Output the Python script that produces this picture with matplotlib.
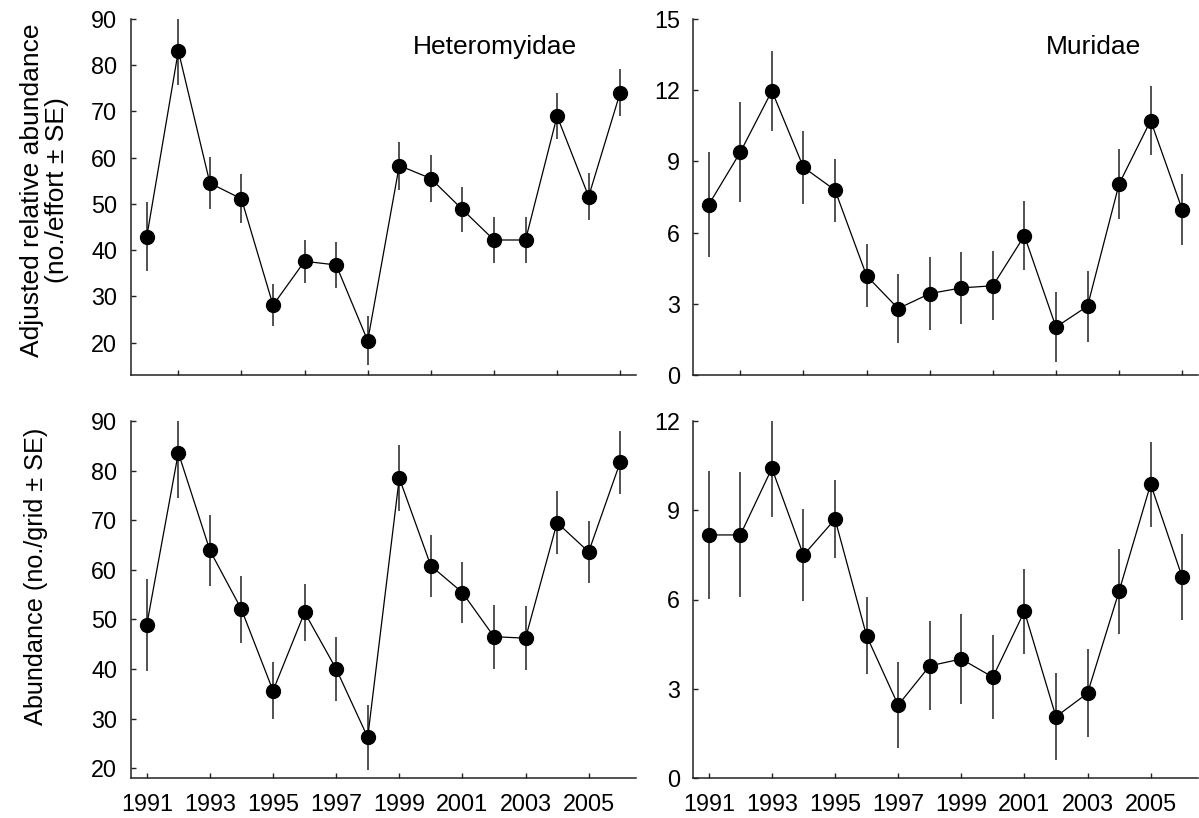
import matplotlib
matplotlib.use("Agg")
import matplotlib.pyplot as plt
import numpy as np

plt.rcParams["font.family"] = ["Liberation Sans", "DejaVu Sans"]

years = np.arange(1991, 2007)

# Heteromyidae, adjusted relative abundance (no./effort) and SE
het_adj = [42.9, 83.1, 54.5, 51.1, 28.1, 37.6, 36.8, 20.4,
           58.3, 55.5, 48.8, 42.2, 42.2, 69.0, 51.6, 74.1]
het_adj_se = [7.5, 7.4, 5.7, 5.3, 4.5, 4.6, 5.0, 5.3,
              5.2, 5.0, 4.9, 5.0, 5.0, 4.9, 5.0, 5.0]

# Muridae, adjusted relative abundance (no./effort) and SE
mur_adj = [7.18, 9.39, 11.97, 8.75, 7.79, 4.18, 2.80, 3.43,
           3.67, 3.76, 5.87, 2.02, 2.90, 8.05, 10.72, 6.97]
mur_adj_se = [2.2, 2.1, 1.67, 1.55, 1.33, 1.32, 1.47, 1.54,
              1.53, 1.45, 1.46, 1.49, 1.49, 1.46, 1.47, 1.48]

# Heteromyidae, abundance (no./grid) and SE
het_abd = [48.9, 83.6, 63.9, 52.0, 35.6, 51.4, 40.0, 26.2,
           78.5, 60.8, 55.4, 46.5, 46.2, 69.5, 63.6, 81.7]
het_abd_se = [9.3, 9.2, 7.2, 6.8, 5.7, 5.7, 6.4, 6.6,
              6.65, 6.3, 6.2, 6.45, 6.5, 6.3, 6.2, 6.35]

# Muridae, abundance (no./grid) and SE
mur_abd = [8.17, 8.17, 10.41, 7.49, 8.70, 4.78, 2.45, 3.77,
           4.00, 3.39, 5.60, 2.06, 2.85, 6.28, 9.88, 6.75]
mur_abd_se = [2.14, 2.1, 1.63, 1.54, 1.31, 1.3, 1.45, 1.5,
              1.5, 1.42, 1.42, 1.47, 1.47, 1.43, 1.43, 1.44]

top_xticks = np.arange(1992, 2007, 2)
bottom_xticks = np.arange(1991, 2006, 2)

TICK_FS = 16.8
TITLE_FS = 19
W, H = 1199, 818
fig = plt.figure(figsize=(W / 100, H / 100), dpi=100)

aw = 505 / W
ax_tl = fig.add_axes([131 / W, 1 - 375 / H, aw, 356 / H])
ax_tr = fig.add_axes([693 / W, 1 - 375 / H, aw, 356 / H])
ax_bl = fig.add_axes([131 / W, 1 - 778 / H, aw, 357 / H])
ax_br = fig.add_axes([693 / W, 1 - 778 / H, aw, 357 / H])


def draw(ax, vals, se, ylim, yticks, xticks, xlabels):
    ax.errorbar(years, vals, yerr=se, fmt="none", ecolor="#333333",
                elinewidth=1.2, capsize=0, zorder=2)
    ax.plot(years, vals, color="black", lw=0.9, zorder=3)
    ax.plot(years, vals, "o", color="black", ms=10, zorder=4)
    ax.set_xlim(1990.5, 2006.5)
    ax.set_ylim(*ylim)
    ax.set_yticks(yticks)
    ax.set_xticks(xticks)
    if xlabels:
        ax.set_xticklabels([str(x) for x in xticks])
    else:
        ax.set_xticklabels([])
    for s in ("top", "right"):
        ax.spines[s].set_visible(False)
    for s in ("left", "bottom"):
        ax.spines[s].set_linewidth(1.1)
        ax.spines[s].set_color("#222222")
    ax.tick_params(axis="both", direction="in", length=3.8, width=1.0,
                   color="#222222", labelsize=TICK_FS)
    ax.tick_params(axis="y", pad=10)
    ax.tick_params(axis="x", pad=10.5)


draw(ax_tl, het_adj, het_adj_se, (13, 90), np.arange(20, 91, 10), top_xticks, False)
draw(ax_tr, mur_adj, mur_adj_se, (0, 15), np.arange(0, 16, 3), top_xticks, False)
draw(ax_bl, het_abd, het_abd_se, (18, 90), np.arange(20, 91, 10), bottom_xticks, True)
draw(ax_br, mur_abd, mur_abd_se, (0, 12), np.arange(0, 13, 3), bottom_xticks, True)

ax_tr.tick_params(axis="y", pad=9.5)
ax_br.tick_params(axis="y", pad=9.5)

ax_tl.text(0.72, 0.955, "Heteromyidae", transform=ax_tl.transAxes,
           ha="center", va="top", fontsize=TITLE_FS)
ax_tr.text(0.793, 0.955, "Muridae", transform=ax_tr.transAxes,
           ha="center", va="top", fontsize=TITLE_FS)

ax_tl.set_ylabel("Adjusted relative abundance\n(no./effort \u00b1 SE)",
                 fontsize=19, multialignment="center", linespacing=1.05)
ax_tl.yaxis.set_label_coords(-0.122, 0.52)
ax_bl.set_ylabel("Abundance (no./grid \u00b1 SE)", fontsize=18.2)
ax_bl.yaxis.set_label_coords(-0.164, 0.566)

fig.savefig("out.png", dpi=100)
